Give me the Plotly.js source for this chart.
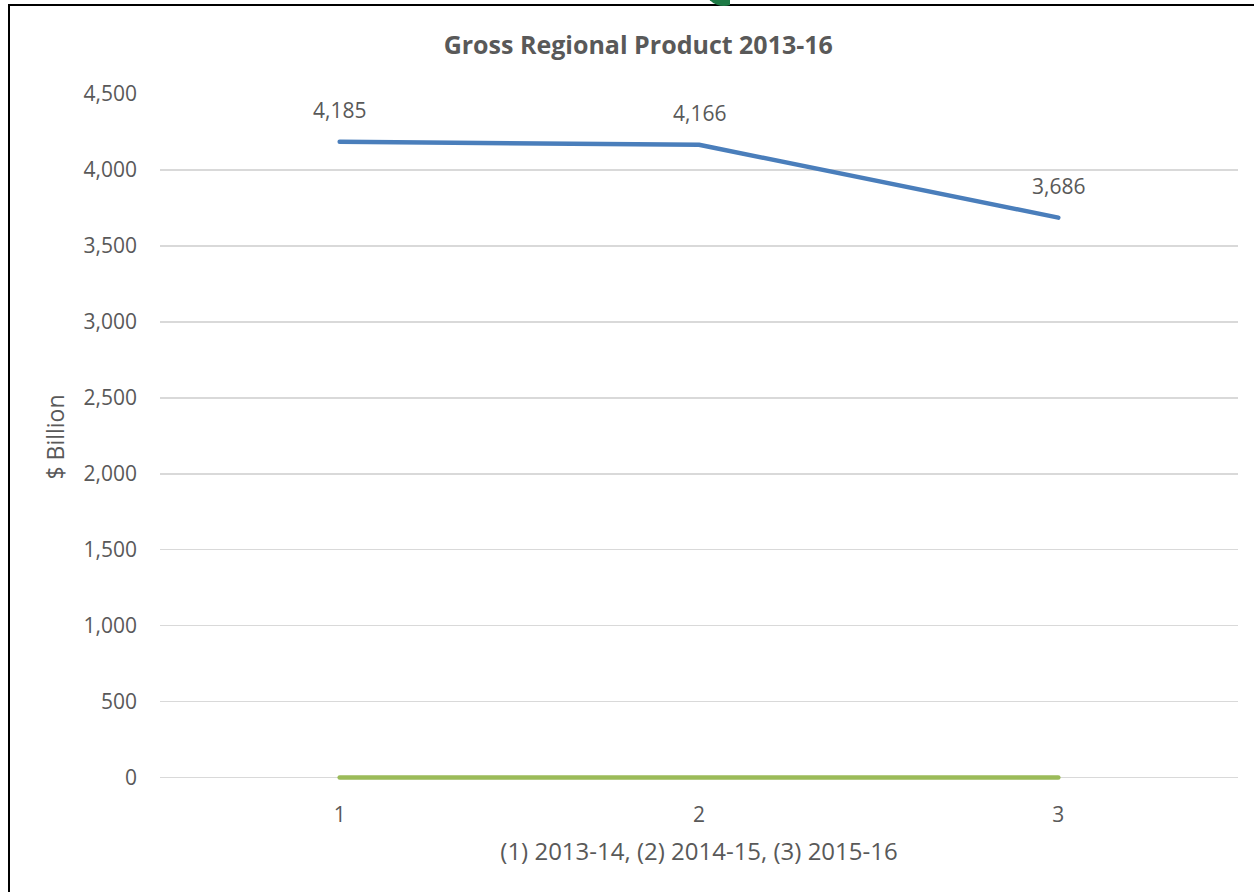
<!DOCTYPE html>
<html>
<head>
<meta charset="utf-8">
<script src="https://cdn.plot.ly/plotly-3.0.1.min.js"></script>
<style>
  html, body { margin: 0; padding: 0; background: #fff; overflow: hidden; }
  #chart { position: absolute; left: 0; top: 0; width: 1254px; height: 892px; }
  #chart .scatterlayer path.js-line { stroke-linecap: round; stroke-linejoin: round; }
  #frame { position: absolute; left: 8px; top: 4px; width: 1260px; height: 900px;
           border-left: 2px solid #000; border-top: 2px solid #000; pointer-events: none; }
  #blob { position: absolute; left: 700px; top: 0; width: 30px; height: 7px; overflow: hidden; pointer-events: none; }
  #blob div { position: absolute; left: 4px; top: -34px; width: 40px; height: 40px; border-radius: 50%; background: #1d7a45; }
</style>
</head>
<body>
<div id="chart"></div>
<div id="frame"></div>
<div id="blob"><div></div></div>
<script>
const categories = [1, 2, 3];
const gdpValues = [4185, 4166, 3686];
const gdpLabels = ["4,185", "4,166", "3,686"];
const secondValues = [0, 0, 0];
const yTicks = [0, 500, 1000, 1500, 2000, 2500, 3000, 3500, 4000, 4500];
const yTickLabels = ["0", "500", "1,000", "1,500", "2,000", "2,500", "3,000", "3,500", "4,000", "4,500"];

const fontFam = '"Open Sans", "Noto Sans", sans-serif';
const grey = '#595959';

const traces = [
  {
    x: categories, y: secondValues, type: 'scatter', mode: 'lines', cliponaxis: false,
    line: { color: '#9bbb59', width: 4.5 }, hoverinfo: 'skip'
  },
  {
    x: categories, y: gdpValues, type: 'scatter', mode: 'lines', cliponaxis: false,
    line: { color: '#4a7ebb', width: 4.5 }, hoverinfo: 'skip'
  }
];

const annotations = categories.map((c, i) => ({
  x: c, y: gdpValues[i], xref: 'x', yref: 'y', text: gdpLabels[i],
  showarrow: false, yshift: 32, font: { family: fontFam, size: 21, color: grey }
}));

const layout = {
  width: 1254, height: 892,
  margin: { l: 160, r: 16, t: 94, b: 112 },
  paper_bgcolor: '#fff', plot_bgcolor: '#fff',
  showlegend: false,
  title: {
    text: '<b>Gross Regional Product 2013-16</b>',
    font: { family: fontFam, size: 25, color: grey },
    x: 0.509, xanchor: 'center', y: 0.949, yanchor: 'middle'
  },
  xaxis: {
    range: [0.5, 3.5], tickvals: categories, ticktext: categories.map(String),
    showgrid: false, zeroline: false, showline: false, ticks: '',
    ticklabelstandoff: 20,
    tickfont: { family: fontFam, size: 21, color: grey },
    title: { text: '(1) 2013-14, (2) 2014-15, (3) 2015-16', standoff: 16,
             font: { family: fontFam, size: 24, color: grey } }
  },
  yaxis: {
    range: [-16, 4500], tickvals: yTicks, ticktext: yTickLabels,
    showgrid: true, gridcolor: '#d9d9d9', gridwidth: 1.5,
    zeroline: false, showline: false, ticks: '',
    ticklabelstandoff: 22,
    tickfont: { family: fontFam, size: 21, color: grey },
    title: { text: '$ Billion', standoff: 12,
             font: { family: fontFam, size: 23, color: grey } }
  },
  annotations: annotations
};

Plotly.newPlot('chart', traces, layout, { displayModeBar: false, staticPlot: true });
</script>
</body>
</html>
